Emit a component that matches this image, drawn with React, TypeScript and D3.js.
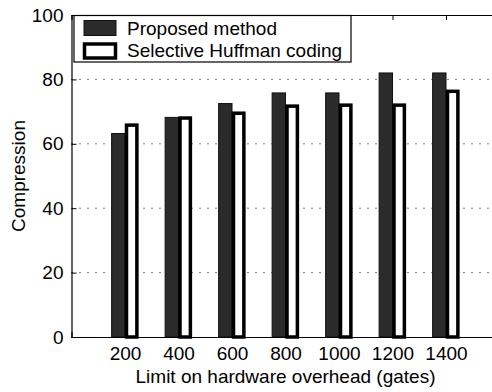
import { useEffect, useRef } from 'react';
import * as d3 from 'd3';

const categories = [200, 400, 600, 800, 1000, 1200, 1400];
const proposed = [63.2, 68.2, 72.5, 75.8, 75.8, 82, 82];
const huffman = [65.8, 68, 69.5, 71.7, 72, 72, 76.3];
const yTicks = [0, 20, 40, 60, 80, 100];
const seriesNames = ['Proposed method', 'Selective Huffman coding'];

const W = 492;
const H = 392;
const FONT = '"Liberation Sans", Arial, sans-serif';
const FS = 19;

const App = () => {
  const svgRef = useRef<SVGSVGElement>(null);

  useEffect(() => {
    const svg = d3.select(svgRef.current);
    svg.selectAll('*').remove();

    const x = d3.scaleLinear().domain([0, 1600]).range([71.5, 499.5]);
    const y = d3.scaleLinear().domain([0, 100]).range([337, 15]);
    const halfBar = 50;

    // grid
    svg
      .append('g')
      .selectAll('line')
      .data(yTicks.filter((t) => t > 0 && t < 100))
      .join('line')
      .attr('x1', x(0))
      .attr('x2', x(1600))
      .attr('y1', (d) => y(d))
      .attr('y2', (d) => y(d))
      .attr('stroke', '#000')
      .attr('stroke-width', 1)
      .attr('stroke-dasharray', '1,7');

    // proposed bars
    svg
      .append('g')
      .selectAll('rect')
      .data(categories)
      .join('rect')
      .attr('x', (d) => x(d - halfBar))
      .attr('width', (d) => x(d) - x(d - halfBar))
      .attr('y', (d, i) => y(proposed[i]))
      .attr('height', (d, i) => y(0) - y(proposed[i]))
      .attr('fill', '#2b2b2b')
      .attr('stroke', '#111')
      .attr('stroke-width', 1);

    // huffman bars
    svg
      .append('g')
      .selectAll('rect')
      .data(categories)
      .join('rect')
      .attr('x', (d) => x(d) + 1.5)
      .attr('width', (d) => x(d + halfBar) - x(d) - 3)
      .attr('y', (d, i) => y(huffman[i]))
      .attr('height', (d, i) => y(0) - y(huffman[i]))
      .attr('fill', '#fff')
      .attr('stroke', '#000')
      .attr('stroke-width', 3.5);

    // axes frame
    const yAxis = d3
      .axisLeft(y)
      .tickValues(yTicks)
      .tickSize(-5)
      .tickPadding(8)
      .tickFormat(d3.format('d'));
    const gy = svg.append('g').attr('transform', `translate(${x(0)},0)`).call(yAxis);
    gy.select('.domain').attr('stroke-width', 1.2);
    gy.selectAll('text').attr('font-size', FS).attr('font-family', FONT).attr('fill', '#000');

    const xAxis = d3
      .axisBottom(x)
      .tickValues(categories)
      .tickSize(-5)
      .tickPadding(10)
      .tickFormat(d3.format('d'));
    const gx = svg.append('g').attr('transform', `translate(0,${y(0)})`).call(xAxis);
    gx.select('.domain').attr('stroke-width', 1.2);
    gx.selectAll('text').attr('font-size', FS).attr('font-family', FONT).attr('fill', '#000');

    const xTop = d3.axisTop(x).tickValues(categories).tickSize(-5).tickFormat(() => '');
    const gt = svg.append('g').attr('transform', `translate(0,${y(100)})`).call(xTop);
    gt.select('.domain').attr('stroke-width', 1.2);

    // legend
    const lg = svg.append('g');
    lg.append('rect')
      .attr('x', 74)
      .attr('y', 15.5)
      .attr('width', 277)
      .attr('height', 46.5)
      .attr('fill', '#fff')
      .attr('stroke', '#000')
      .attr('stroke-width', 1.2);
    lg.append('rect')
      .attr('x', 84)
      .attr('y', 20.5)
      .attr('width', 32)
      .attr('height', 15)
      .attr('fill', '#2b2b2b')
      .attr('stroke', '#111');
    lg.append('rect')
      .attr('x', 84.5)
      .attr('y', 44)
      .attr('width', 31)
      .attr('height', 14)
      .attr('fill', '#fff')
      .attr('stroke', '#000')
      .attr('stroke-width', 3.5);
    lg.selectAll('text')
      .data(seriesNames)
      .join('text')
      .attr('x', 127)
      .attr('y', (d, i) => 34.5 + i * 22.5)
      .attr('font-size', FS)
      .attr('font-family', FONT)
      .text((d) => d);

    // labels
    svg
      .append('text')
      .attr('x', 285.5)
      .attr('y', 383)
      .attr('text-anchor', 'middle')
      .attr('font-size', FS)
      .attr('font-family', FONT)
      .text('Limit on hardware overhead (gates)');
    svg
      .append('text')
      .attr('transform', `translate(25,176) rotate(-90)`)
      .attr('text-anchor', 'middle')
      .attr('font-size', FS)
      .attr('font-family', FONT)
      .text('Compression');
  }, []);

  return (
    <svg
      ref={svgRef}
      width={W}
      height={H}
      style={{ position: 'absolute', left: 0, top: 0, background: '#fff' }}
    />
  );
};

export default App;
